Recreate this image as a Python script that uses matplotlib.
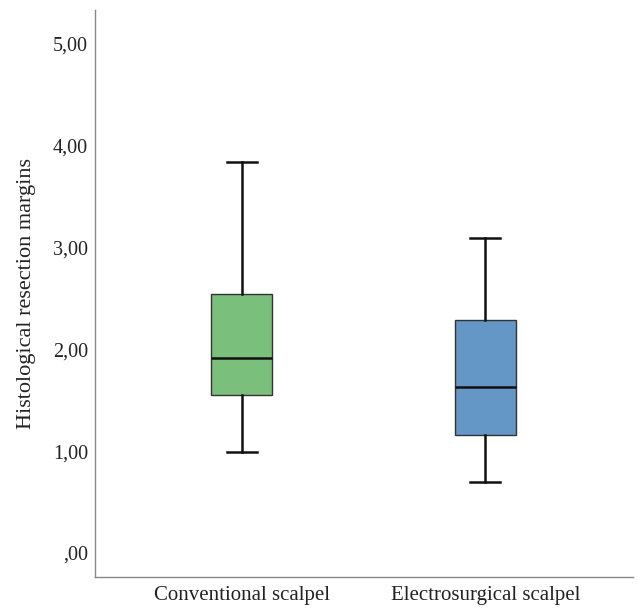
import matplotlib
matplotlib.use("Agg")
from matplotlib import pyplot as plt

# box summary values
groups = ["Conventional scalpel", "Electrosurgical scalpel"]
whislo = [0.99, 0.70]
q1 = [1.55, 1.16]
med = [1.915, 1.63]
q3 = [2.54, 2.29]
whishi = [3.84, 3.09]
colors = ["#7abf7b", "#6496c6"]
yticks = [0, 1, 2, 3, 4, 5]
yticklabels = [",00", "1,00", "2,00", "3,00", "4,00", "5,00"]

plt.rcParams['font.family'] = ['Liberation Serif', 'DejaVu Serif']

stats = []
for i in range(len(groups)):
    stats.append({"label": groups[i], "whislo": whislo[i], "q1": q1[i],
                  "med": med[i], "q3": q3[i], "whishi": whishi[i], "fliers": []})

fig = plt.figure(figsize=(6.37, 6.15), dpi=100)
ax = fig.add_axes([0.149, 0.0618, 0.845, 0.922])

bp = ax.bxp(stats, positions=[1, 2], widths=0.25, patch_artist=True,
            showfliers=False,
            boxprops=dict(edgecolor="#333333", linewidth=1.0),
            medianprops=dict(color="#111111", linewidth=1.8),
            whiskerprops=dict(color="#111111", linewidth=1.8),
            capprops=dict(color="#111111", linewidth=1.8))
for patch, c in zip(bp["boxes"], colors):
    patch.set_facecolor(c)

ax.set_xlim(0.396, 2.608)
ax.set_ylim(-0.236, 5.33)
ax.set_yticks(yticks)
ax.set_yticklabels(yticklabels)
ax.tick_params(axis="both", length=0, labelcolor="#222222")
ax.tick_params(axis="y", pad=5, labelsize=14.5)
ax.tick_params(axis="x", pad=6.5, labelsize=15)
ax.set_ylabel("Histological resection margins", fontsize=16, labelpad=12, color="#222222")

for s in ["top", "right"]:
    ax.spines[s].set_visible(False)
for s in ["left", "bottom"]:
    ax.spines[s].set_color("#888888")
    ax.spines[s].set_linewidth(1.0)

fig.savefig("out.png", dpi=100)
